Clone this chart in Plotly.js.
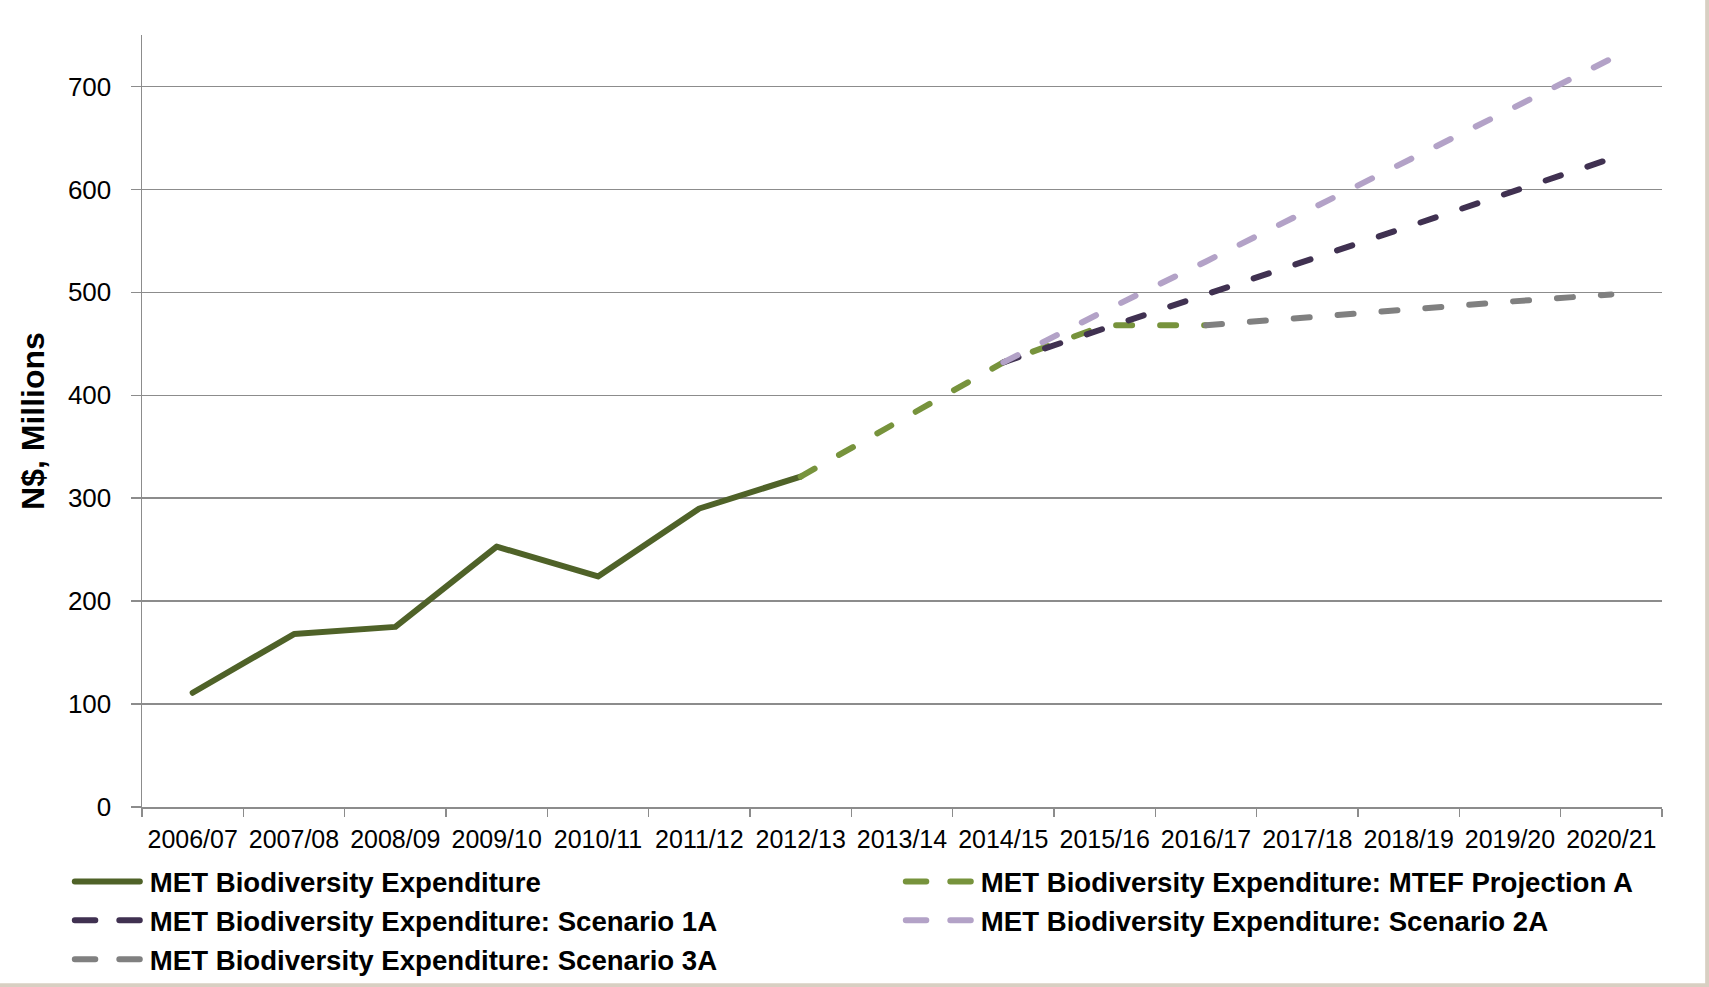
<!DOCTYPE html>
<html>
<head>
<meta charset="utf-8">
<script src="https://cdn.plot.ly/plotly-3.0.1.min.js"></script>
<style>
  html, body { margin: 0; padding: 0; background: #ffffff; }
  #chart { width: 1709px; height: 987px; }
</style>
</head>
<body>
<div id="chart"></div>
<script>
// ---- Data (N$, Millions) ----
var categories = ['2006/07','2007/08','2008/09','2009/10','2010/11','2011/12','2012/13',
                  '2013/14','2014/15','2015/16','2016/17','2017/18','2018/19','2019/20','2020/21'];
var expenditure = [111, 168, 175, 253, 224, 290, 321, null, null, null, null, null, null, null, null];
var mtefProjectionA = [null, null, null, null, null, null, 321, 376, 432, 468, 468, null, null, null, null];
var scenario1A = [null, null, null, null, null, null, null, null, 432, 465, 499, 531, 564, 597, 630];
var scenario2A = [null, null, null, null, null, null, null, null, 432, 482, 530, 579, 628, 677, 727];
var scenario3A = [null, null, null, null, null, null, null, null, null, null, 468, 476, 483, 491, 498];
var seriesNames = ['MET Biodiversity Expenditure',
                   'MET Biodiversity Expenditure: MTEF Projection A',
                   'MET Biodiversity Expenditure: Scenario 1A',
                   'MET Biodiversity Expenditure: Scenario 2A',
                   'MET Biodiversity Expenditure: Scenario 3A'];
var yTitle = 'N$, Millions';

var FONT = 'Liberation Sans, Arial, sans-serif';
var DASH = '16px,28px';

function line(name, y, color, dash) {
  return {
    type: 'scatter', mode: 'lines', name: name,
    x: categories, y: y,
    connectgaps: false,
    line: { color: color, width: 6, dash: dash || 'solid' },
    hoverinfo: 'x+y'
  };
}

var traces = [
  line(seriesNames[0], expenditure, '#4F6228'),
  line(seriesNames[1], mtefProjectionA, '#77933C', DASH),
  line(seriesNames[2], scenario1A, '#403151', DASH),
  line(seriesNames[3], scenario2A, '#B3A2C7', DASH),
  line(seriesNames[4], scenario3A, '#808080', DASH)
];

var GRID = '#8c8c8c';
var FRAME = '#d8cfc2';
var layout = {
  width: 1709, height: 987,
  paper_bgcolor: '#ffffff', plot_bgcolor: '#ffffff',
  margin: { l: 142, r: 47, t: 35, b: 180, autoexpand: false },
  font: { family: FONT, color: '#000000', size: 26 },
  showlegend: true,
  xaxis: {
    type: 'category',
    categoryorder: 'array', categoryarray: categories,
    range: [-0.5, 14.5],
    tickson: 'boundaries',
    tickangle: 0,
    ticks: 'outside', ticklen: 8, tickwidth: 1.5, tickcolor: GRID,
    showline: true, linecolor: GRID, linewidth: 1.5,
    showgrid: false, zeroline: false,
    tickfont: { family: FONT, size: 25, color: '#000000' },
    ticklabelstandoff: 9,
    fixedrange: true
  },
  yaxis: {
    range: [0, 750],
    tick0: 0, dtick: 100,
    ticks: 'outside', ticklen: 10, tickwidth: 1.5, tickcolor: GRID,
    showline: true, linecolor: GRID, linewidth: 1.5,
    showgrid: true, gridcolor: GRID, gridwidth: 1.5,
    zeroline: false,
    tickfont: { family: FONT, size: 26, color: '#000000' },
    ticklabelstandoff: 14,
    title: { text: yTitle, font: { family: FONT, size: 32, color: '#000000', weight: 'bold' }, standoff: 13 },
    fixedrange: true
  },
  legend: {
    orientation: 'h',
    x: -0.0475, xanchor: 'left',
    y: -0.0648, yanchor: 'top',
    itemwidth: 70,
    entrywidth: 746, entrywidthmode: 'pixels',
    font: { family: FONT, size: 27.6, color: '#000000', weight: 'bold' },
    bgcolor: 'rgba(0,0,0,0)', borderwidth: 0,
    traceorder: 'normal'
  },
  shapes: [
    // page edge (photographed document border), right and bottom
    { type: 'rect', xref: 'paper', yref: 'paper', x0: 1.0284, x1: 1.04, y0: -0.25, y1: 1.1,
      fillcolor: FRAME, line: { width: 0 }, layer: 'above' },
    { type: 'rect', xref: 'paper', yref: 'paper', x0: -0.1, x1: 1.04, y0: -0.25, y1: -0.2282,
      fillcolor: FRAME, line: { width: 0 }, layer: 'above' }
  ]
};

Plotly.newPlot('chart', traces, layout, { displayModeBar: false, staticPlot: true }).then(function () {
  var root = document.getElementById('chart');
  root.querySelectorAll('.scatterlayer path.js-line').forEach(function (p) {
    p.style.strokeLinecap = 'round';
    p.style.strokeLinejoin = 'round';
  });
  var items = root.querySelectorAll('.legend g.traces');
  items.forEach(function (g, i) {
    var p = g.querySelector('path.js-line');
    if (!p) return;
    p.setAttribute('d', 'M5,0h65');
    p.style.strokeLinecap = 'round';
    if (i > 0) p.style.strokeDasharray = '20.5px,24px';
  });
});
</script>
</body>
</html>
